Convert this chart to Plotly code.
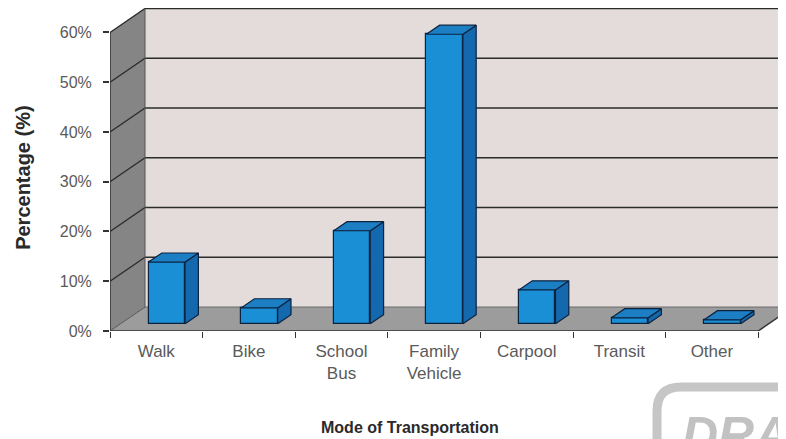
import plotly.graph_objects as go

# ---- data ----
categories = ["Walk", "Bike", "School<br>Bus", "Family<br>Vehicle", "Carpool", "Transit", "Other"]
percentages = [12.4, 3.2, 18.7, 58.2, 6.8, 1.2, 0.8]
y_ticks = [0, 10, 20, 30, 40, 50, 60]
y_tick_labels = ["0%", "10%", "20%", "30%", "40%", "50%", "60%"]

# ---- 3-D look parameters (axis units) ----
DX = 0.378          # depth shift in category units
DY = 4.82           # depth shift in percent units
F0 = 0.30           # depth fraction of bar front face
FD = 0.38           # bar depth fraction
BW = 0.395          # bar width
YMAX = 60
XMIN, XMAX = -0.5, -0.5 + 676 / 92.6
YTOP = 323.5 / 4.983

n = len(categories)
xs = list(range(n))

front_c = "#1b8fd6"
side_c = "#1468ad"
top_c = "#1c7ec3"
edge_c = "#0c2340"

fig = go.Figure()

shapes = []
def poly(pts, fill, line_color="rgba(0,0,0,0)", lw=0):
    path = "M " + " L ".join(f"{x},{y}" for x, y in pts) + " Z"
    shapes.append(dict(type="path", path=path, xref="x", yref="y", fillcolor=fill,
                       line=dict(color=line_color, width=lw), layer="below"))

def seg(x0, y0, x1, y1, color="#2b2b2b", w=1.4):
    shapes.append(dict(type="line", x0=x0, y0=y0, x1=x1, y1=y1, xref="x", yref="y",
                       line=dict(color=color, width=w), layer="below"))

xl = XMIN
xr = XMIN + n  # right end of floor
# back wall
poly([(xl + DX, DY), (XMAX + 1, DY), (XMAX + 1, YMAX + DY), (xl + DX, YMAX + DY)], "#e4dcda")
# left wall
poly([(xl, 0), (xl, YMAX), (xl + DX, YMAX + DY), (xl + DX, DY)], "#858585")
# floor
poly([(xl, 0), (xr, 0), (xr + DX, DY), (xl + DX, DY)], "#9c9c9c")

# gridlines
for t in y_ticks[1:]:
    seg(xl + DX, t + DY, XMAX + 1, t + DY)
    seg(xl, t, xl + DX, t + DY)
seg(xl, 0, xl + DX, DY, "#555555", 1)
seg(xl + DX, DY, XMAX + 1, DY, "#6a6a6a", 1)
seg(xl + DX, DY, xl + DX, YMAX + DY, "#555555", 1)
# axes lines
seg(xl, 0, xr, 0, "#333333", 1.5)
seg(xr, 0, xr + DX, DY, "#333333", 1.5)
seg(xl, 0, xl, YMAX, "#333333", 1.5)

# bars: front faces
bx = [i + F0 * DX for i in xs]
base = F0 * DY
fig.add_trace(go.Bar(x=bx, y=percentages, base=[base] * n, width=BW,
                     marker=dict(color=front_c, line=dict(color=edge_c, width=1.2)),
                     hoverinfo="skip", showlegend=False))

# side and top faces
for i, v in zip(xs, percentages):
    x0 = bx[i] - BW / 2
    x1 = bx[i] + BW / 2
    yb = base
    yt = base + v
    ddx, ddy = FD * DX, FD * DY
    fig.add_trace(go.Scatter(x=[x1, x1, x1 + ddx, x1 + ddx, x1], y=[yb, yt, yt + ddy, yb + ddy, yb],
                             fill="toself", fillcolor=side_c, mode="lines",
                             line=dict(color=edge_c, width=1.2), hoverinfo="skip", showlegend=False))
    fig.add_trace(go.Scatter(x=[x0, x1, x1 + ddx, x0 + ddx, x0], y=[yt, yt, yt + ddy, yt + ddy, yt],
                             fill="toself", fillcolor=top_c, mode="lines",
                             line=dict(color=edge_c, width=1.2), hoverinfo="skip", showlegend=False))

# watermark (rounded box + text)
r = 24
shapes.append(dict(type="path", xref="paper", yref="paper", xsizemode="pixel", ysizemode="pixel",
                   xanchor=1, yanchor=0,
                   path=f"M -129,-200 L -129,{-56 - r} Q -129,-56 {-129 + r},-56 L 100,-56",
                   line=dict(color="#c6c6c6", width=9), layer="above"))

fig.update_layout(
    width=778, height=431,
    margin=dict(l=102, r=0, t=0, b=108),
    paper_bgcolor="white", plot_bgcolor="white",
    shapes=shapes,
    bargap=0,
    font=dict(family="Liberation Sans, Arial, sans-serif"),
    xaxis=dict(range=[XMIN, XMAX], tickmode="array", tickvals=xs, ticktext=categories,
               showgrid=False, zeroline=False, showline=False, ticks="", ticklen=0,
               tickfont=dict(size=17, color="#5a5a5a"), ticklabelstandoff=8,
               minor=dict(tickmode="array", tickvals=[i - 0.5 for i in range(n + 1)],
                          ticks="outside", ticklen=6, tickcolor="#333333", showgrid=False)),
    yaxis=dict(range=[0, YTOP], tickmode="array", tickvals=y_ticks, ticktext=y_tick_labels,
               showgrid=False, zeroline=False, showline=False, ticks="outside", ticklen=6,
               tickcolor="#333333", tickwidth=1.5,
               tickfont=dict(size=16, color="#5a5a5a"), ticklabelstandoff=8),
    annotations=[
        dict(text="<b>Percentage (%)</b>", xref="paper", yref="paper", x=-0.149, y=0.475,
             textangle=-90, showarrow=False, font=dict(size=20, color="#2a2a2a")),
        dict(text="<b>Mode of Transportation</b>", xref="paper", yref="paper", x=0.444, y=-0.33,
             showarrow=False, font=dict(size=16, color="#2a2a2a")),
        dict(text="DRAFT", xref="paper", yref="paper", x=(680 - 110) / 676, y=(331 - 405) / 323.5,
             xanchor="left", yanchor="top", showarrow=False,
             font=dict(size=50, color="#c2c2c2", style="italic", weight="bold")),
    ],
)

fig.write_html("out.html")
